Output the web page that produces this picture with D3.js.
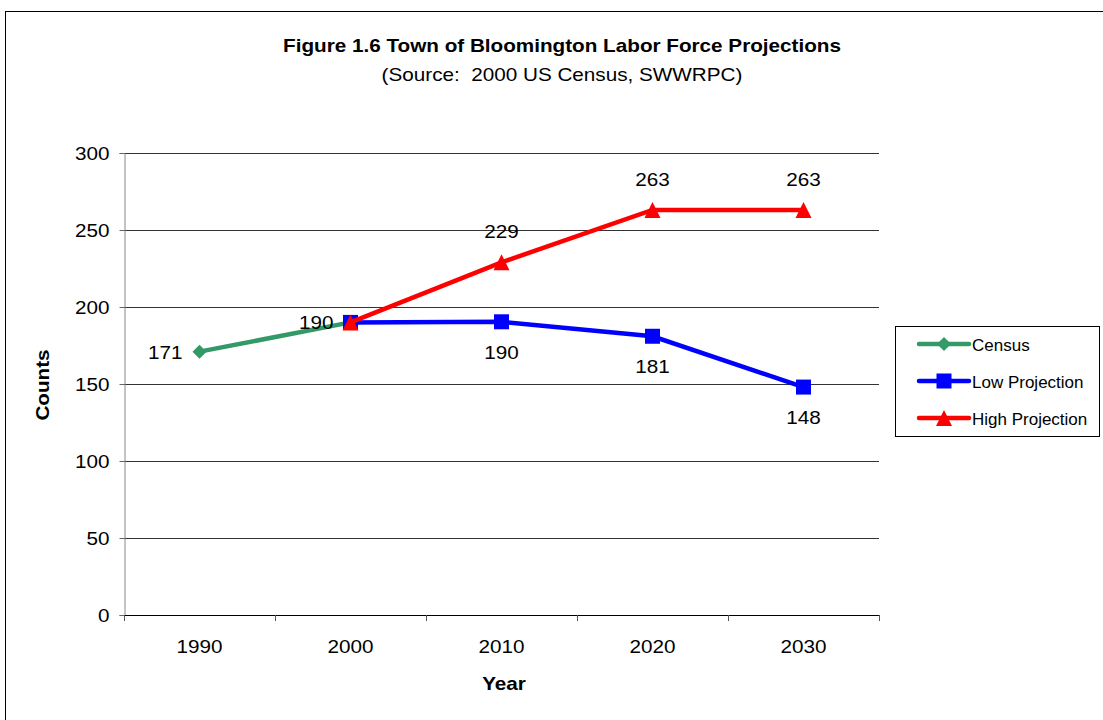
<!DOCTYPE html>
<html><head><meta charset="utf-8">
<script src="https://cdn.jsdelivr.net/npm/d3@7"></script>
<style>
html,body{margin:0;padding:0;background:#fff;}
svg{display:block;font-family:"Liberation Sans",Arial,sans-serif;}
</style></head>
<body>
<svg id="chart" width="1103" height="720"></svg>
<script>
const years = ["1990","2000","2010","2020","2030"];
const yTicks = [0,50,100,150,200,250,300];
const censusYears = ["1990","2000"];
const censusValues = [171,190];
const lowYears = ["2000","2010","2020","2030"];
const lowValues = [190,190.4,181,148];
const lowLabels = ["190","190","181","148"];
const highYears = ["2000","2010","2020","2030"];
const highValues = [190,229,263,263];
const highLabels = ["190","229","263","263"];
const seriesNames = ["Census","Low Projection","High Projection"];
const seriesColors = ["#339966","#0000ff","#ff0000"];

(function(){
const SX = 1.15; // horizontal stretch of text as in the original
const svg = d3.select("#chart");
svg.append("rect").attr("x",5.5).attr("y",11.5).attr("width",1110).attr("height",720)
  .attr("fill","none").attr("stroke","#000").attr("stroke-width",1);

function T(parent, x, y, str, size, opts){
  opts = opts||{};
  const t = parent.append("text")
    .attr("transform",`translate(${x},${y})${opts.rotate?` rotate(${opts.rotate})`:""} scale(${SX},1)`)
    .attr("text-anchor",opts.anchor||"middle").attr("font-size",size)
    .attr("fill","#000").style("white-space","pre").text(str);
  if(opts.bold) t.attr("font-weight","bold");
  return t;
}

const pL=124, pR=879, pT=153, pB=615;
const x = d3.scaleBand().domain(years).range([pL,pR]);
const y = d3.scaleLinear().domain([0,300]).range([pB,pT]);
const cx = d => x(d)+x.bandwidth()/2;

T(svg,562,52,"Figure 1.6 Town of Bloomington Labor Force Projections",18,{bold:true});
T(svg,562,81,"(Source:  2000 US Census, SWWRPC)",18);

svg.append("g").selectAll("line").data(yTicks.filter(d=>d>0)).join("line")
  .attr("x1",pL).attr("x2",pR).attr("y1",d=>Math.round(y(d))+0.5).attr("y2",d=>Math.round(y(d))+0.5)
  .attr("stroke","#333").attr("stroke-width",1);

const yAxis = svg.append("g").attr("transform",`translate(${pL+0.5},0)`)
  .call(d3.axisLeft(y).tickValues(yTicks).tickSize(5).tickPadding(10));
yAxis.select(".domain").attr("stroke","#888");
yAxis.selectAll(".tick line").attr("stroke","#666");
yAxis.selectAll(".tick text").attr("font-size",18).attr("fill","#000")
  .attr("font-family","Liberation Sans, Arial, sans-serif")
  .attr("x",-15/SX).attr("dy","0.35em").attr("transform",`scale(${SX},1)`);

const xAxis = svg.append("g").attr("transform",`translate(0,${Math.round(y(0))+0.5})`)
  .call(d3.axisBottom(x).tickSize(0));
xAxis.select(".domain").remove();
xAxis.selectAll(".tick text").attr("font-size",18).attr("fill","#000")
  .attr("font-family","Liberation Sans, Arial, sans-serif")
  .attr("y",38).attr("dy",0).attr("transform",`scale(${SX},1)`);
svg.append("line").attr("x1",pL).attr("x2",pR).attr("y1",Math.round(y(0))+0.5).attr("y2",Math.round(y(0))+0.5)
  .attr("stroke","#000");
const bounds = years.map(d=>x(d)).concat([pR]);
svg.append("g").selectAll("line").data(bounds).join("line")
  .attr("x1",d=>Math.round(d)+0.5).attr("x2",d=>Math.round(d)+0.5)
  .attr("y1",Math.round(y(0))).attr("y2",Math.round(y(0))+6).attr("stroke","#555");

T(svg,49,385,"Counts",18,{bold:true,rotate:-90});
T(svg,504,690,"Year",18,{bold:true});

const line = d3.line().x(d=>cx(d[0])).y(d=>y(d[1]));
const diamondType = {draw(ctx,s){const r=Math.sqrt(s)/2;ctx.moveTo(0,-r);ctx.lineTo(r,0);ctx.lineTo(0,r);ctx.lineTo(-r,0);ctx.closePath();}};
const triType = {draw(ctx,s){const r=Math.sqrt(s)/2;ctx.moveTo(0,-r);ctx.lineTo(r,r);ctx.lineTo(-r,r);ctx.closePath();}};
const sym = {
  diamond: d3.symbol().type(diamondType).size(196),
  square: d3.symbol().type(d3.symbolSquare).size(225),
  triangle: d3.symbol().type(triType).size(256)
};
function drawSeries(yrs, vals, color, symbol){
  const pts = yrs.map((d,i)=>[d,vals[i]]);
  svg.append("path").datum(pts).attr("d",line).attr("fill","none").attr("stroke",color).attr("stroke-width",4.5);
  svg.append("g").selectAll("path").data(pts).join("path")
    .attr("d",symbol).attr("transform",d=>`translate(${cx(d[0])},${y(d[1])})`).attr("fill",color);
}
drawSeries(censusYears,censusValues,seriesColors[0],sym.diamond);
drawSeries(lowYears,lowValues,seriesColors[1],sym.square);
drawSeries(highYears,highValues,seriesColors[2],sym.triangle);

const lbl = svg.append("g");
T(lbl,cx("1990")-17,y(censusValues[0])+7,"171",18,{anchor:"end"});
T(lbl,cx("2000")-17,y(censusValues[1])+7,"190",18,{anchor:"end"});
lowYears.forEach((d,i)=>{ if(i>0) T(lbl,cx(d),y(lowValues[i])+37,lowLabels[i],18); });
highYears.forEach((d,i)=>{ if(i>0) T(lbl,cx(d),y(highValues[i])-24,highLabels[i],18); });

const lg = svg.append("g");
lg.append("rect").attr("x",895.5).attr("y",326.5).attr("width",204).attr("height",110)
  .attr("fill","#fff").attr("stroke","#000");
const syms=[sym.diamond,sym.square,sym.triangle];
seriesNames.forEach((n,i)=>{
  const yy = 344 + i*37;
  lg.append("line").attr("x1",919).attr("x2",969).attr("y1",yy).attr("y2",yy)
    .attr("stroke",seriesColors[i]).attr("stroke-width",4.5).attr("stroke-linecap","round");
  lg.append("path").attr("d",syms[i]).attr("transform",`translate(944,${yy})`).attr("fill",seriesColors[i]);
  lg.append("text").attr("x",972).attr("y",yy+7).attr("font-size",17).attr("fill","#000").text(n);
});
})();
</script>
</body></html>
